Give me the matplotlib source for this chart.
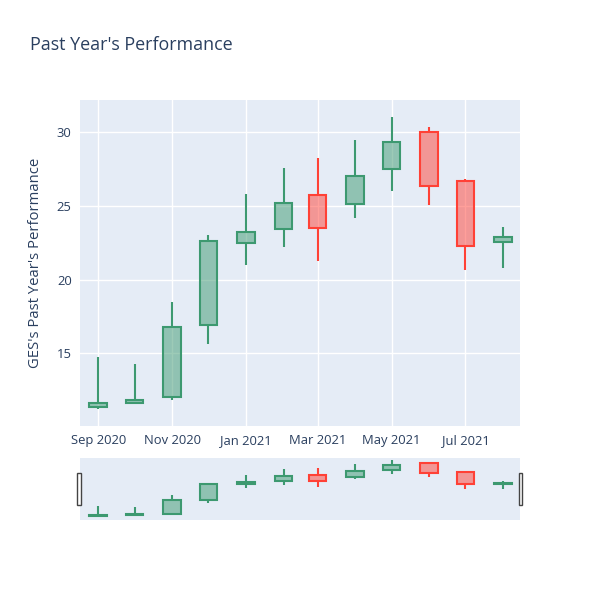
import datetime as dt
import matplotlib
matplotlib.use("Agg")
import matplotlib.pyplot as plt
import matplotlib.dates as mdates
from matplotlib.patches import Rectangle

plt.rcParams['font.family'] = ['Open Sans', 'DejaVu Sans']

# monthly candles, GES
months = ["2020-09-01", "2020-10-01", "2020-11-01", "2020-12-01", "2021-01-01", "2021-02-01",
          "2021-03-01", "2021-04-01", "2021-05-01", "2021-06-01", "2021-07-01", "2021-08-01"]
opens = [11.33, 11.65, 12.0, 16.9, 22.5, 23.45, 25.75, 25.1, 27.5, 30.0, 26.7, 22.55]
highs = [14.77, 14.27, 18.5, 23.0, 25.8, 27.6, 28.25, 29.45, 31.05, 30.35, 26.8, 23.6]
lows = [11.19, 11.6, 11.85, 15.65, 21.0, 22.2, 21.25, 24.15, 26.0, 25.05, 20.65, 20.8]
closes = [11.65, 11.85, 16.75, 22.6, 23.2, 25.2, 23.5, 27.0, 29.35, 26.35, 22.3, 22.9]

title = "Past Year's Performance"
ylabel = "GES's Past Year's Performance"

inc_col = '#3D9970'
dec_col = '#FF4136'
bg = '#E5ECF6'
txt = '#2a3f5f'

dates = [dt.datetime.strptime(m, "%Y-%m-%d") for m in months]
x = mdates.date2num(dates)
xlim = (mdates.date2num(dt.datetime(2020, 8, 17)), mdates.date2num(dt.datetime(2021, 8, 15)))
box_w = 14.5


def draw_candles(ax):
    for xi, o, h, l, c in zip(x, opens, highs, lows, closes):
        col = inc_col if c >= o else dec_col
        lo_b, hi_b = min(o, c), max(o, c)
        ax.vlines(xi, l, lo_b, color=col, lw=1.5, zorder=2)
        ax.vlines(xi, hi_b, h, color=col, lw=1.5, zorder=2)
        ax.add_patch(Rectangle((xi - box_w / 2, lo_b), box_w, hi_b - lo_b,
                               facecolor=col, alpha=0.5, edgecolor='none', zorder=3))
        ax.add_patch(Rectangle((xi - box_w / 2, lo_b), box_w, hi_b - lo_b,
                               facecolor='none', edgecolor=col, lw=1.5, zorder=4))


fig = plt.figure(figsize=(6, 6), dpi=100)

ax = fig.add_axes([80 / 600, 174 / 600, 440 / 600, 326 / 600])
ax.set_facecolor(bg)
draw_candles(ax)
ax.set_xlim(*xlim)
ax.set_ylim(10.06, 32.19)
ax.set_yticks([15, 20, 25, 30])
ax.xaxis.set_major_locator(mdates.MonthLocator(bymonth=[1, 3, 5, 7, 9, 11]))
ax.xaxis.set_major_formatter(mdates.DateFormatter('%b %Y'))
ax.grid(True, color='white', lw=1)
ax.set_axisbelow(True)
for s in ax.spines.values():
    s.set_visible(False)
ax.tick_params(length=0, labelsize=9.4, labelcolor=txt, pad=6)
ax.set_ylabel(ylabel, fontsize=10.7, color=txt, labelpad=10)

# range slider
sl = fig.add_axes([80 / 600, 80 / 600, 440 / 600, 62 / 600])
sl.set_facecolor(bg)
draw_candles(sl)
sl.set_xlim(*xlim)
sl.set_ylim(9.75, 31.66)
sl.set_xticks([])
sl.set_yticks([])
for s in sl.spines.values():
    s.set_visible(False)
for hx in (79.0, 520.5):
    fig.patches.append(Rectangle(((hx - 1.8) / 600, 95 / 600), 3.6 / 600, 32 / 600,
                                 transform=fig.transFigure, facecolor='white',
                                 edgecolor='#444444', lw=1))

fig.text(30 / 600, 1 - 45 / 600, title, fontsize=12.9, color=txt, va='center')

fig.savefig("out.png", dpi=100)
